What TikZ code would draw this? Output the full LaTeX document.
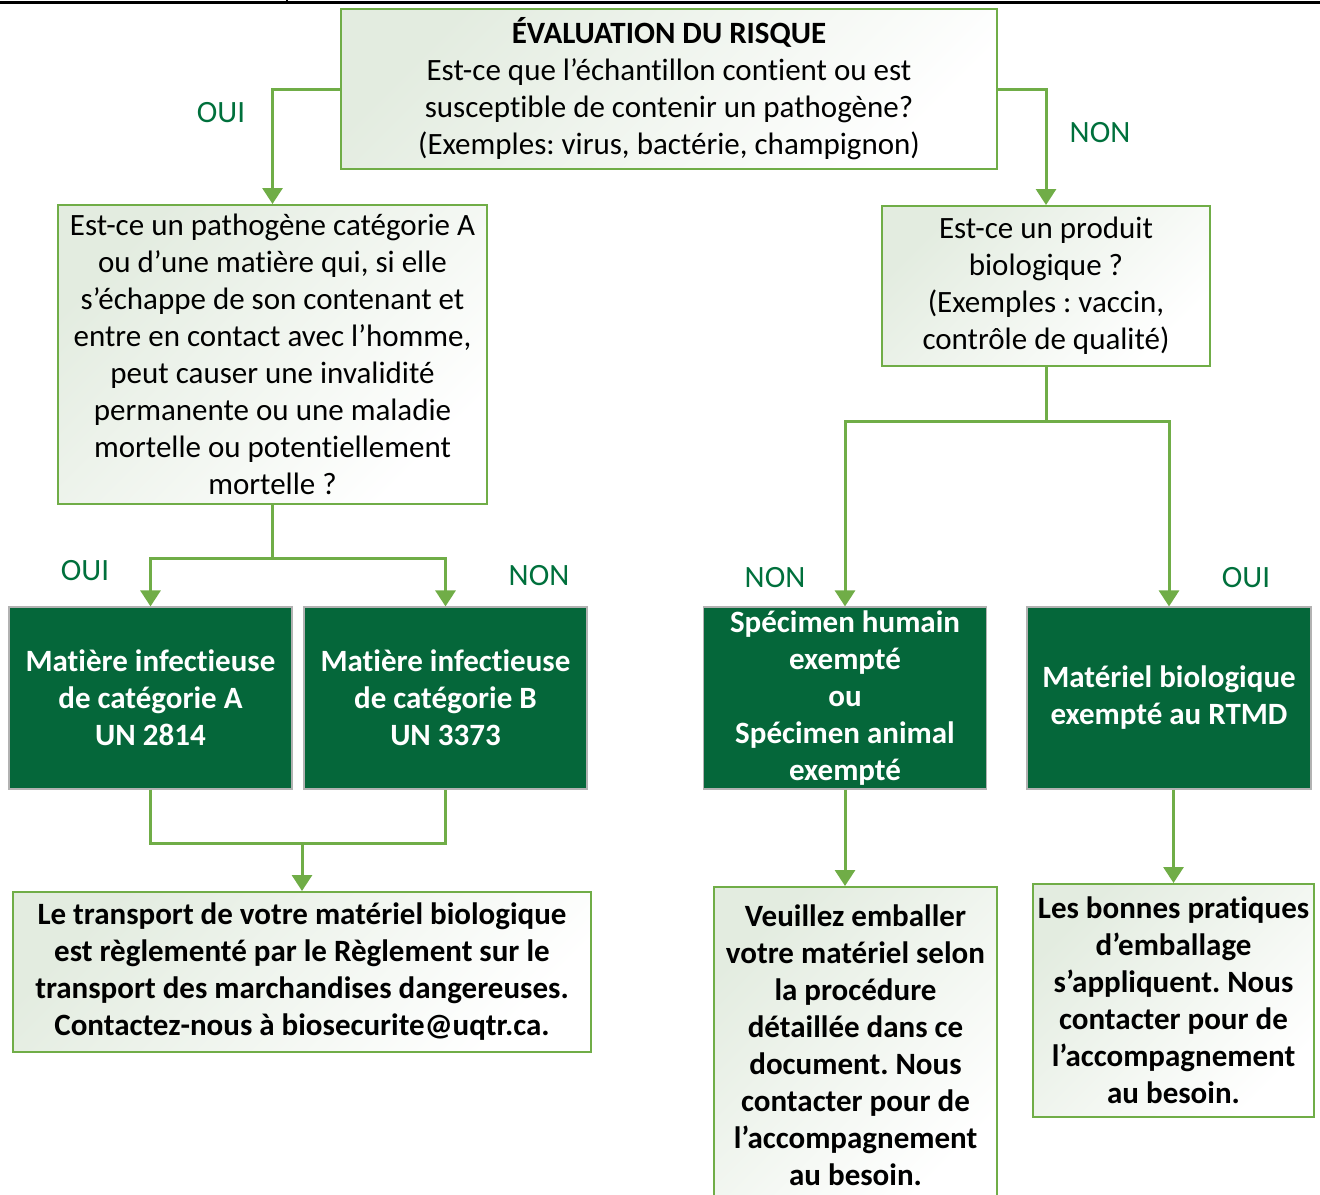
\documentclass[tikz,border=0pt]{standalone}
\usepackage{fontspec}
\setmainfont{Carlito}[Ligatures={NoCommon,NoContextual}]
\usepackage{tikz}
\usetikzlibrary{arrows.meta}
\frenchspacing

\definecolor{linegreen}{HTML}{70AD47}
\definecolor{darkgreen}{HTML}{05673A}
\definecolor{labelgreen}{HTML}{00703C}
\definecolor{paleshade}{HTML}{E3ECE0}

\begin{document}
\begin{tikzpicture}[x=0.5pt,y=-0.5pt,
  >={Triangle[width=10pt,length=8pt]},
  every node/.style={font=\fontsize{15.5}{18.5}\selectfont, align=center, inner sep=0pt},
  question/.style={draw=linegreen, line width=1pt, top color=paleshade, bottom color=white, shading angle=45},
  result/.style={draw=black!30, line width=0.6pt, fill=darkgreen, text=white, font=\fontsize{15.5}{18.5}\selectfont\bfseries},
  answer/.style={text=labelgreen},
  flow/.style={draw=linegreen, line width=1.5pt}]
\useasboundingbox (0,0) rectangle (1320,1194);

% table border above the chart
\draw[line width=1.5pt] (0,2) -- (1320,2);
\draw[line width=0.8pt] (287,0) -- (287,2);

% questions
\node[question, minimum width=328pt, minimum height=80pt] (risk) at (669,89)
  {\textbf{ÉVALUATION DU RISQUE}\\Est-ce que l’échantillon contient ou est\\susceptible de contenir un pathogène?\\(Exemples: virus, bactérie, champignon)};
\node[question, minimum width=214.5pt, minimum height=149.5pt] (catA) at (272.5,354.5)
  {Est-ce un pathogène catégorie A\\ou d’une matière qui, si elle\\s’échappe de son contenant et\\entre en contact avec l’homme,\\peut causer une invalidité\\permanente ou une maladie\\mortelle ou potentiellement\\mortelle ?};
\node[question, minimum width=164pt, minimum height=80pt] (bio) at (1046,286)
  {Est-ce un produit\\biologique ?\\(Exemples : vaccin,\\contrôle de qualité)};

% classes
\node[result, minimum width=141.5pt, minimum height=91pt] (matA) at (150.5,698)
  {Matière infectieuse\\de catégorie A\\UN 2814};
\node[result, minimum width=141.5pt, minimum height=91pt] (matB) at (445.5,698)
  {Matière infectieuse\\de catégorie B\\UN 3373};
\node[result, minimum width=141.5pt, minimum height=91pt] (human) at (845,698)
  {Spécimen humain\\exempté\\ou\\Spécimen animal\\exempté};
\node[result, minimum width=142pt, minimum height=91pt] (rtmd) at (1169,698)
  {Matériel biologique\\exempté au RTMD};

% what to do
\node[question, font=\fontsize{15.5}{18.5}\selectfont\bfseries, minimum width=289pt, minimum height=80pt] (rules) at (302,972)
  {Le transport de votre matériel biologique\\est règlementé par le Règlement sur le\\transport des marchandises dangereuses.\\Contactez-nous à biosecurite@uqtr.ca.};
\node[question, font=\fontsize{15.5}{18.5}\selectfont\bfseries, minimum width=141.5pt, minimum height=158pt] (pack) at (855.5,1045)
  {Veuillez emballer\\votre matériel selon\\la procédure\\détaillée dans ce\\document. Nous\\contacter pour de\\l’accompagnement\\au besoin.};
\node[question, font=\fontsize{15.5}{18.5}\selectfont\bfseries, minimum width=140.5pt, minimum height=116.5pt] (good) at (1173.5,1000.5)
  {Les bonnes pratiques\\d’emballage\\s’appliquent. Nous\\contacter pour de\\l’accompagnement\\au besoin.};

% yes / no
\node[answer] (yes1) at (221,113) {OUI};
\node[answer] (no1) at (1100,133) {NON};
\node[answer] (yes2) at (85,571) {OUI};
\node[answer] (no2) at (539,576) {NON};
\node[answer] (no3) at (775,578) {NON};
\node[answer] (yes3) at (1246,578) {OUI};

\coordinate (splitA) at (272.5,558);
\coordinate (splitB) at (1046,421);
\coordinate (joinA) at (302,843);

\draw[flow,->] (risk.west) -| (catA.north);
\draw[flow,->] (risk.east) -| (bio.north);
\draw[flow] (catA.south) -- (splitA);
\draw[flow,->] (splitA) -| (matA.north);
\draw[flow,->] (splitA) -| (matB.north);
\draw[flow] (bio.south) -- (splitB);
\draw[flow,->] (splitB) -| (human.north);
\draw[flow,->] (splitB) -| (rtmd.north);
\draw[flow] (matA.south) |- (joinA) -| (matB.south);
\draw[flow,->] (joinA) -- (rules.north);
\draw[flow,->] (human.south) -- (human.south |- pack.north);
\draw[flow,->] (good.north |- rtmd.south) -- (good.north);
\end{tikzpicture}
\end{document}
